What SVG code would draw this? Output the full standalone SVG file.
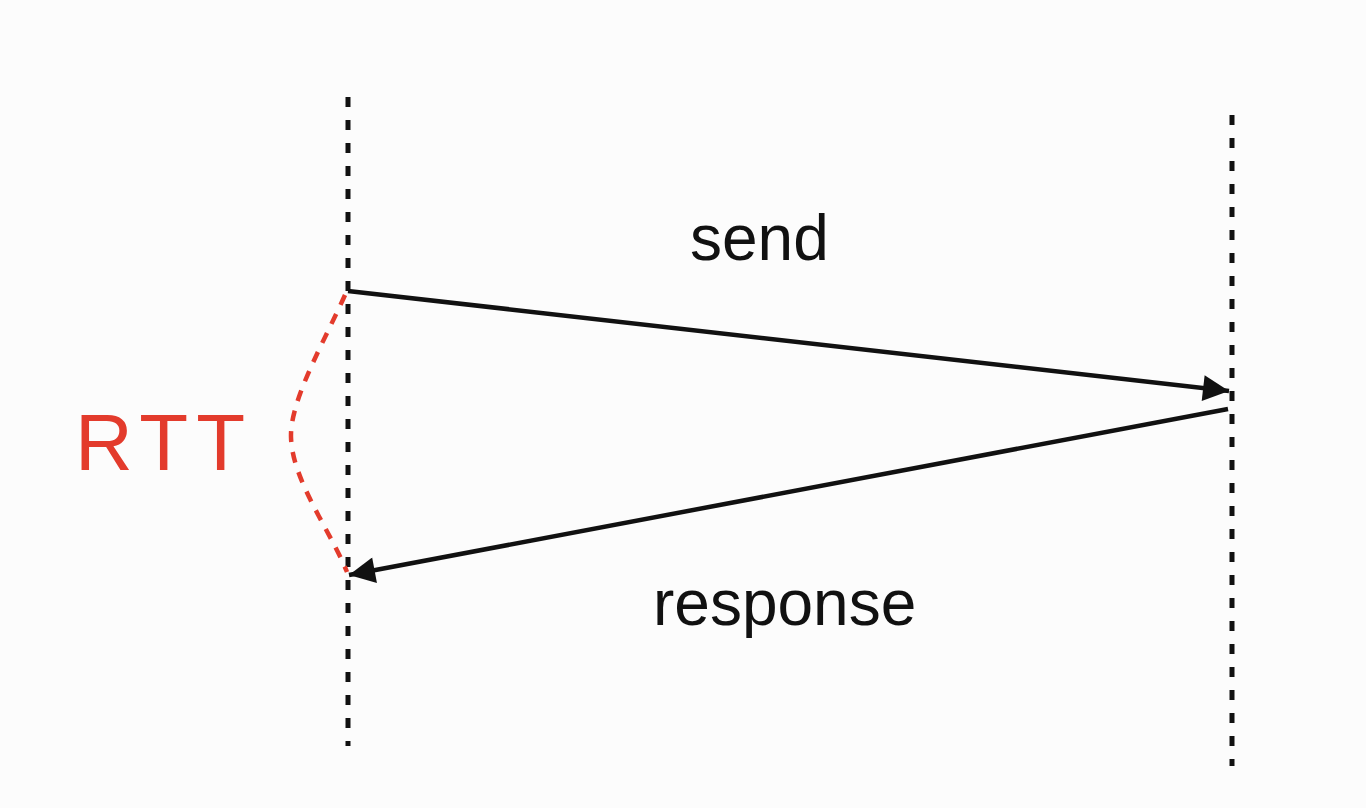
<svg xmlns="http://www.w3.org/2000/svg" width="1366" height="808" viewBox="0 0 1366 808">
<defs>
<style>
.life{stroke:#111;stroke-width:5;stroke-dasharray:10 13;fill:none}
.msg{stroke:#111;stroke-width:4.5;fill:none}
.rtt{stroke:#e33b2c;stroke-width:4.5;stroke-dasharray:11 10;fill:none}
.lbl{font-family:"Liberation Sans",Arial,sans-serif;fill:#111}
</style>
<marker id="ah" viewBox="0 0 10 10" refX="10" refY="5" markerWidth="30" markerHeight="26" markerUnits="userSpaceOnUse" orient="auto">
<path d="M0,0 L10,5 L0,10 z" fill="#111"/>
</marker>
</defs>
<rect width="1366" height="808" fill="#fcfcfc"/>
<g id="lifeline-left"><line class="life" x1="348" y1="97" x2="348" y2="746"/></g>
<g id="lifeline-right"><line class="life" x1="1232" y1="115" x2="1232" y2="766"/></g>
<g id="connectors">
<line class="msg" x1="348" y1="291" x2="1229" y2="391" marker-end="url(#ah)"/>
<line class="msg" x1="1228" y1="409" x2="349" y2="575" marker-end="url(#ah)"/>
<path class="rtt" d="M345,295 C325,340 290,400 291,437 C292,480 330,530 347,572"/>
</g>
<g id="label-send"><text class="lbl" x="690" y="260" font-size="64">send</text></g>
<g id="label-response"><text class="lbl" x="653" y="625" font-size="64">response</text></g>
<g id="label-rtt"><text x="75" y="470" font-family="Liberation Sans,Arial,sans-serif" font-size="80" letter-spacing="8" fill="#e33b2c">RTT</text></g>
</svg>
